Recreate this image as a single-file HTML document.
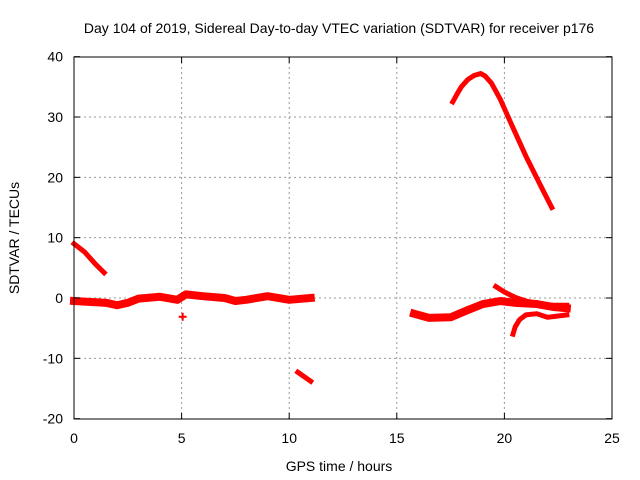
<!DOCTYPE html>
<html><head><meta charset="utf-8"><style>
body{margin:0;background:#fff}
svg{display:block;font-family:"Liberation Sans",sans-serif}
</style></head><body>
<svg id="chart" width="640" height="480" viewBox="0 0 640 480" xmlns="http://www.w3.org/2000/svg">
<text x="339" y="33" font-size="14" text-anchor="middle">Day 104 of 2019, Sidereal Day-to-day VTEC variation (SDTVAR) for receiver p176</text>
<text x="339" y="471" font-size="14" text-anchor="middle">GPS time / hours</text>
<text transform="translate(19,238) rotate(-90)" font-size="14" text-anchor="middle">SDTVAR / TECUs</text>
<g id="grid"></g><g id="marks"></g>
<rect x="74" y="57" width="538" height="362" fill="none" stroke="#000" stroke-width="1"/>
<g id="ticks"></g>
</svg>
<script>
const xTicks=[0,5,10,15,20,25];
const yTicks=[-20,-10,0,10,20,30,40];
const seriesDecayEarly=[[0,9],[0.5,7.6],[1,5.6],[1.4,4.2]];
const seriesFlat=[[0,-0.5],[0.5,-0.6],[1,-0.7],[1.5,-0.8],[2,-1.2],[2.5,-0.8],[3,-0.1],[4,0.2],[4.8,-0.3],[5.2,0.6],[6,0.3],[7,0],[7.5,-0.5],[8,-0.3],[9,0.3],[10,-0.3],[11,0]];
const seriesDrop=[[10.4,-12.3],[11,-13.8]];
const seriesOutlier=[[5.05,-3.1]];
const seriesPeak=[[17.6,32.5],[17.8,33.8],[18,35],[18.3,36.2],[18.6,36.9],[18.9,37.2],[19.1,36.8],[19.4,35.6],[19.8,33],[20.3,29],[21,23.5],[21.7,18.5],[22.2,15]];
const seriesLowBand=[[15.8,-2.6],[16.5,-3.3],[17.5,-3.2],[18.3,-2],[19,-1],[19.8,-0.5],[20.5,-0.8],[21.5,-1],[22.3,-1.5],[22.9,-1.7]];
const seriesUpper=[[19.6,1.9],[20,1],[20.5,0.1],[21,-0.5],[22,-1.2],[22.9,-1.2]];
const seriesHook=[[20.4,-6],[20.5,-4.8],[20.7,-3.6],[21,-2.8],[21.5,-2.6],[22,-3.2],[22.9,-2.8]];
const X=h=>74+h*538/25, Y=v=>298-v*362/60;
const NS="http://www.w3.org/2000/svg";
const grid=document.getElementById('grid'),ticks=document.getElementById('ticks'),marks=document.getElementById('marks');
function mk(tag,attrs,parent){const e=document.createElementNS(NS,tag);for(const k in attrs)e.setAttribute(k,attrs[k]);parent.appendChild(e);return e;}
xTicks.forEach(t=>{
 if(t>0&&t<25){const g=mk('line',{x1:X(t),x2:X(t),y1:57,y2:419,stroke:'#999','stroke-dasharray':'2,3'},grid);
 
 }
 const l=mk('text',{x:X(t),y:443,'font-size':14,'text-anchor':'middle'},ticks);l.textContent=t;
 
 
 mk('line',{x1:X(t),x2:X(t),y1:419,y2:413,stroke:'#000'},ticks);
 mk('line',{x1:X(t),x2:X(t),y1:57,y2:63,stroke:'#000'},ticks);
});
yTicks.forEach(t=>{
 if(t>-20&&t<40){const g=mk('line',{x1:74,x2:612,y1:Y(t),y2:Y(t),stroke:'#999','stroke-dasharray':'2,3'},grid);
 
 }
 const l=mk('text',{x:63,y:Y(t)+5,'font-size':14,'text-anchor':'end'},ticks);l.textContent=t;
 
 
 mk('line',{x1:74,x2:80,y1:Y(t),y2:Y(t),stroke:'#000'},ticks);
 mk('line',{x1:612,x2:606,y1:Y(t),y2:Y(t),stroke:'#000'},ticks);
});
function series(data,w,name){
 const p=mk('polyline',{points:data.map(d=>X(d[0])+','+Y(d[1])).join(' '),fill:'none',stroke:'#f00','stroke-width':w,'stroke-linejoin':'round','stroke-linecap':'square'},marks);
 
 
}
series(seriesDecayEarly,5,'series-decay-early');
series(seriesFlat,8,'series-flat');
series(seriesDrop,5,'series-drop');
series(seriesPeak,5,'series-peak');
series(seriesLowBand,8,'series-low-band');
series(seriesUpper,5,'series-upper');
series(seriesHook,5,'series-hook');
seriesOutlier.forEach(d=>{
 const p=mk('path',{d:`M${X(d[0])-4},${Y(d[1])}h8M${X(d[0])},${Y(d[1])-4}v8`,stroke:'#f00','stroke-width':2},marks);
 
 
});
</script>
</body></html>
